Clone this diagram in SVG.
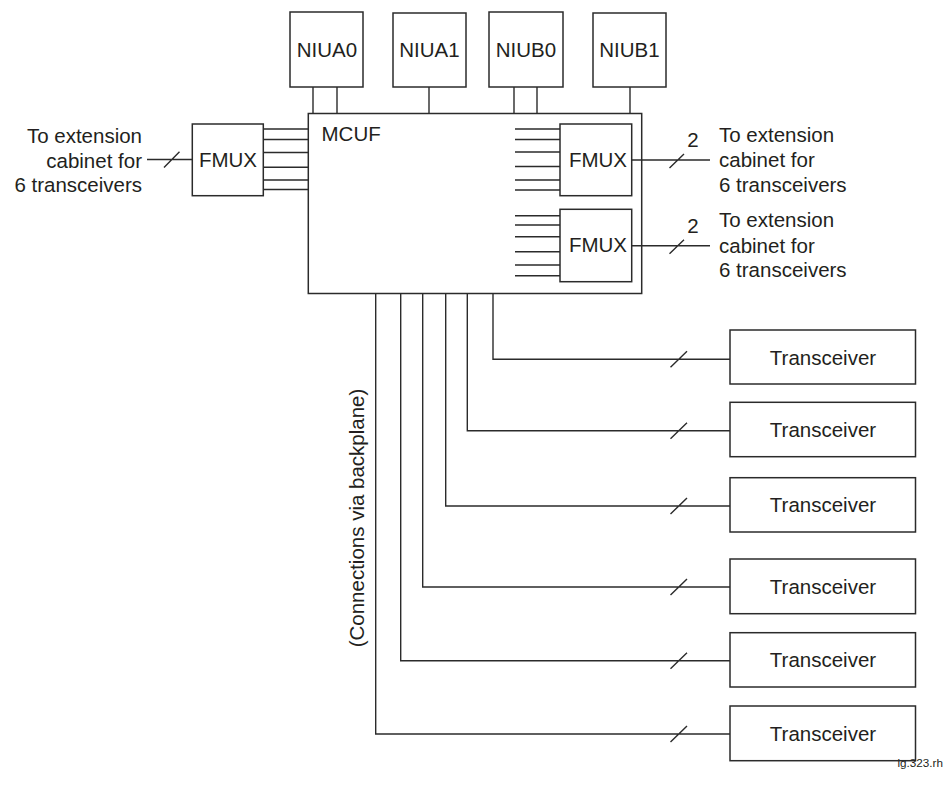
<svg xmlns="http://www.w3.org/2000/svg" width="948" height="787" viewBox="0 0 948 787">
<style>
  .box{fill:#fff;stroke:#2b2b2b;stroke-width:1.5}
  .ln{fill:none;stroke:#2b2b2b;stroke-width:1.4}
  .t{font-family:"Liberation Sans",Arial,Helvetica,sans-serif;font-size:20.5px;fill:#231f20}
  .m{text-anchor:middle}
  .e{text-anchor:end}
</style>
<rect width="948" height="787" fill="#fff"/>

<g id="niua0"><rect class="box" x="290" y="12" width="73" height="75"/><text class="t m" x="327" y="57">NIUA0</text></g>
<g id="niua1"><rect class="box" x="393" y="13" width="73" height="74"/><text class="t m" x="429.5" y="57">NIUA1</text></g>
<g id="niub0"><rect class="box" x="489" y="12" width="74" height="75"/><text class="t m" x="526" y="57">NIUB0</text></g>
<g id="niub1"><rect class="box" x="593" y="13" width="73" height="74"/><text class="t m" x="629.5" y="57">NIUB1</text></g>

<g id="mcuf"><rect class="box" x="308.3" y="113.5" width="333.4" height="180"/><text class="t" x="321.5" y="140.7">MCUF</text></g>

<g id="fmux-left"><rect class="box" x="192.3" y="124" width="71" height="71.7"/><text class="t m" x="228" y="166.7">FMUX</text></g>
<g id="fmux-right1"><rect class="box" x="560" y="124" width="71.7" height="71.7"/><text class="t m" x="598" y="167.3">FMUX</text></g>
<g id="fmux-right2"><rect class="box" x="560" y="209.3" width="71.7" height="72.4"/><text class="t m" x="598" y="252">FMUX</text></g>

<g id="label-left">
  <text class="t e" x="142" y="143">To extension</text>
  <text class="t e" x="142" y="168">cabinet for</text>
  <text class="t e" x="142" y="192.3">6 transceivers</text>
</g>
<g id="label-right1">
  <text class="t m" x="693" y="147.3">2</text>
  <text class="t" x="719" y="141.7">To extension</text>
  <text class="t" x="719" y="166.8">cabinet for</text>
  <text class="t" x="719" y="192">6 transceivers</text>
</g>
<g id="label-right2">
  <text class="t m" x="693" y="232.7">2</text>
  <text class="t" x="719" y="227">To extension</text>
  <text class="t" x="719" y="252.6">cabinet for</text>
  <text class="t" x="719" y="277.4">6 transceivers</text>
</g>

<g id="trx1"><rect class="box" x="730" y="330" width="185.5" height="54"/><text class="t m" x="823" y="364.5">Transceiver</text></g>
<g id="trx2"><rect class="box" x="730" y="402.3" width="185.5" height="54.4"/><text class="t m" x="823" y="437">Transceiver</text></g>
<g id="trx3"><rect class="box" x="730" y="477.7" width="185.5" height="54.3"/><text class="t m" x="823" y="512">Transceiver</text></g>
<g id="trx4"><rect class="box" x="730" y="559" width="185.5" height="54.7"/><text class="t m" x="823" y="593.7">Transceiver</text></g>
<g id="trx5"><rect class="box" x="730" y="632.7" width="185.5" height="54.3"/><text class="t m" x="823" y="667.3">Transceiver</text></g>
<g id="trx6"><rect class="box" x="730" y="706" width="185.5" height="54.7"/><text class="t m" x="823" y="741">Transceiver</text></g>

<g id="connectors">
  <!-- NIU stubs -->
  <path class="ln" d="M313 87V113.5M337 87V113.5M429 87V113.5M514 87V113.5M537 87V113.5M630 87V113.5"/>
  <!-- left FMUX to MCUF -->
  <path class="ln" d="M263.3 129H308.3M263.3 139.5H308.3M263.3 152.5H308.3M263.3 167.3H308.3M263.3 180H308.3M263.3 189.5H308.3"/>
  <!-- left external link -->
  <path class="ln" d="M147 159.5H192.3M164 167.5L179.5 151.7"/>
  <!-- right FMUX1 inputs -->
  <path class="ln" d="M515 129H560M515 139.5H560M515 152H560M515 166.5H560M515 180H560M515 190H560"/>
  <!-- right FMUX2 inputs -->
  <path class="ln" d="M515 215.7H560M515 225H560M515 236.7H560M515 251.7H560M515 265H560M515 275.7H560"/>
  <!-- right external links -->
  <path class="ln" d="M631.7 160H710M669.5 168L684 154"/>
  <path class="ln" d="M631.7 245.7H710M669.5 253.7L684 239.7"/>
  <!-- transceiver links -->
  <path class="ln" d="M493 293.5V359.3H730M670.5 367.3L687 351.3"/>
  <path class="ln" d="M467.3 293.5V430.7H730M670.5 438.7L687 422.7"/>
  <path class="ln" d="M445.7 293.5V506H730M670.5 514L687 498"/>
  <path class="ln" d="M422.7 293.5V587H730M670.5 595L687 579"/>
  <path class="ln" d="M400.7 293.5V660.7H730M670.5 668.7L687 652.7"/>
  <path class="ln" d="M375.7 293.5V734H730M670.5 742L687 726"/>
</g>

<text class="t m" transform="translate(364 518) rotate(-90)">(Connections via backplane)</text>
<text x="943" y="766.7" text-anchor="end" font-family="Liberation Sans, Arial, sans-serif" font-size="11.7" fill="#231f20">ig.323.rh</text>
</svg>
